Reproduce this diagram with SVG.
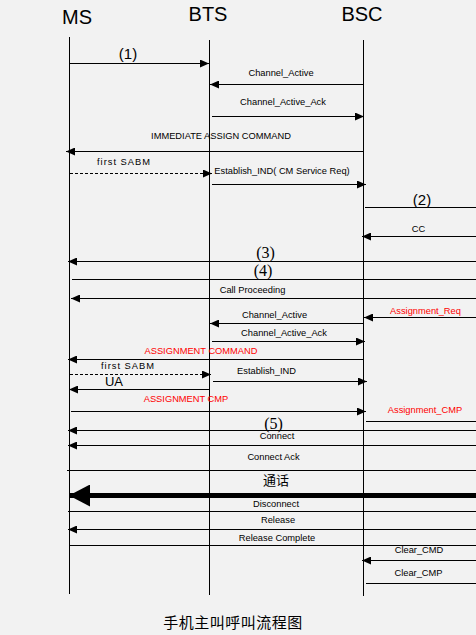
<svg xmlns="http://www.w3.org/2000/svg" width="476" height="635" viewBox="0 0 476 635">
<style>
.bg{fill:#f2f2f2}
.life{stroke:#000;stroke-width:1}
.m{stroke:#000;stroke-width:1;fill:none}
.d{stroke-dasharray:3,2}
.a{marker-end:url(#ah)}
.thick{stroke:#000;stroke-width:5;fill:none;marker-end:url(#ahb)}
.hd{font-family:"Liberation Sans",Arial,sans-serif;font-size:20px;fill:#000;text-anchor:middle}
.l{font-family:"Liberation Sans",Arial,sans-serif;font-size:9.3px;fill:#000;text-anchor:middle}
.r{fill:#ff0000}
.n{font-family:"Liberation Sans",Arial,sans-serif;font-size:15px;fill:#000;text-anchor:middle}
.ns{font-family:"Liberation Serif","Times New Roman",serif;font-size:16px;fill:#000;text-anchor:middle}
.sp{letter-spacing:1px;text-anchor:start}
.cjk{font-family:"Liberation Sans","Noto Sans CJK SC",sans-serif;fill:#000;text-anchor:middle}
</style>
<defs>
<marker id="ah" markerUnits="userSpaceOnUse" markerWidth="9" markerHeight="8" refX="9" refY="4" orient="auto"><path d="M0,0 L9,4 L0,8 z" fill="#000"/></marker>
<marker id="ahb" markerUnits="userSpaceOnUse" markerWidth="21" markerHeight="22" refX="20" refY="11" orient="auto"><path d="M0,0 L21,11 L0,22 z" fill="#000"/></marker>
</defs>
<rect class="bg" x="0" y="0" width="476" height="635"/>
<g id="MS"><text class="hd" x="77" y="24">MS</text><line class="life" x1="69.5" y1="37" x2="69.5" y2="594"/></g>
<g id="BTS"><text class="hd" x="208" y="21">BTS</text><line class="life" x1="209.5" y1="40" x2="209.5" y2="595"/></g>
<g id="BSC"><text class="hd" x="362" y="21">BSC</text><line class="life" x1="363.5" y1="40" x2="363.5" y2="596"/></g>
<g id="connectors">
<line class="m a" x1="70" y1="63.5" x2="209" y2="63.5"/>
<text class="n" x="128" y="59">(1)</text>
<line class="m a" x1="364" y1="84.5" x2="210" y2="84.5"/>
<text class="l" x="281" y="76">Channel_Active</text>
<line class="m a" x1="212" y1="116.5" x2="364" y2="116.5"/>
<text class="l" x="283" y="105">Channel_Active_Ack</text>
<line class="m a" x1="364" y1="151.5" x2="66" y2="151.5"/>
<text class="l" x="221" y="139">IMMEDIATE ASSIGN COMMAND</text>
<line class="m d a" x1="70" y1="173.5" x2="212" y2="173.5"/>
<text class="l sp" x="97" y="165">first SABM</text>
<text class="l" x="282" y="174">Establish_IND( CM Service Req)</text>
<line class="m a" x1="212" y1="184.5" x2="366" y2="184.5"/>
<line class="m" x1="365" y1="207.5" x2="476" y2="207.5"/>
<text class="n" x="422" y="205">(2)</text>
<line class="m a" x1="476" y1="236.5" x2="362" y2="236.5"/>
<text class="l" x="418.5" y="232">CC</text>
<line class="m a" x1="476" y1="261.5" x2="68" y2="261.5"/>
<text class="ns" x="265.5" y="258">(3)</text>
<line class="m" x1="72" y1="279.5" x2="476" y2="279.5"/>
<text class="ns" x="263" y="276">(4)</text>
<line class="m a" x1="476" y1="298.5" x2="71" y2="298.5"/>
<text class="l" x="252.5" y="293">Call Proceeding</text>
<line class="m a" x1="476" y1="317.5" x2="364" y2="317.5"/>
<text class="l r" x="425.5" y="314">Assignment_Req</text>
<line class="m a" x1="364" y1="323.5" x2="210" y2="323.5"/>
<text class="l" x="274.5" y="318">Channel_Active</text>
<line class="m a" x1="212" y1="341.5" x2="365" y2="341.5"/>
<text class="l" x="284" y="336">Channel_Active_Ack</text>
<line class="m a" x1="364" y1="359.5" x2="68" y2="359.5"/>
<text class="l r" x="201" y="354">ASSIGNMENT COMMAND</text>
<line class="m d a" x1="70" y1="374.5" x2="211" y2="374.5"/>
<text class="l sp" x="101" y="369">first SABM</text>
<line class="m a" x1="213" y1="381.5" x2="367" y2="381.5"/>
<text class="l" x="266.5" y="374">Establish_IND</text>
<line class="m a" x1="210" y1="389.5" x2="69" y2="389.5"/>
<text class="n" x="114" y="386" style="font-size:13px">UA</text>
<line class="m a" x1="71" y1="411.5" x2="366" y2="411.5"/>
<text class="l r" x="186" y="402">ASSIGNMENT CMP</text>
<line class="m" x1="366" y1="421.5" x2="476" y2="421.5"/>
<text class="l r" x="425" y="413">Assignment_CMP</text>
<line class="m a" x1="476" y1="430.5" x2="68" y2="430.5"/>
<text class="ns" x="273.5" y="429">(5)</text>
<line class="m a" x1="476" y1="445.5" x2="68" y2="445.5"/>
<text class="l" x="277" y="439">Connect</text>
<line class="m" x1="67" y1="470.5" x2="476" y2="470.5"/>
<text class="l" x="273.5" y="460">Connect Ack</text>
<line class="thick" x1="476" y1="495.5" x2="70" y2="495.5"/>
<text class="cjk" x="276" y="485" style="font-size:13px">通话</text>
<line class="m" x1="68" y1="511.5" x2="476" y2="511.5"/>
<text class="l" x="276" y="507">Disconnect</text>
<line class="m a" x1="476" y1="529.5" x2="68" y2="529.5"/>
<text class="l" x="278" y="523">Release</text>
<line class="m" x1="69" y1="545.5" x2="476" y2="545.5"/>
<text class="l" x="277" y="541">Release Complete</text>
<line class="m a" x1="476" y1="560.5" x2="362" y2="560.5"/>
<text class="l" x="419" y="553">Clear_CMD</text>
<line class="m" x1="366" y1="583.5" x2="476" y2="583.5"/>
<text class="l" x="418.5" y="576">Clear_CMP</text>
</g>
<text class="cjk" x="233" y="628" style="font-size:15px;letter-spacing:0.5px">手机主叫呼叫流程图</text>
</svg>
